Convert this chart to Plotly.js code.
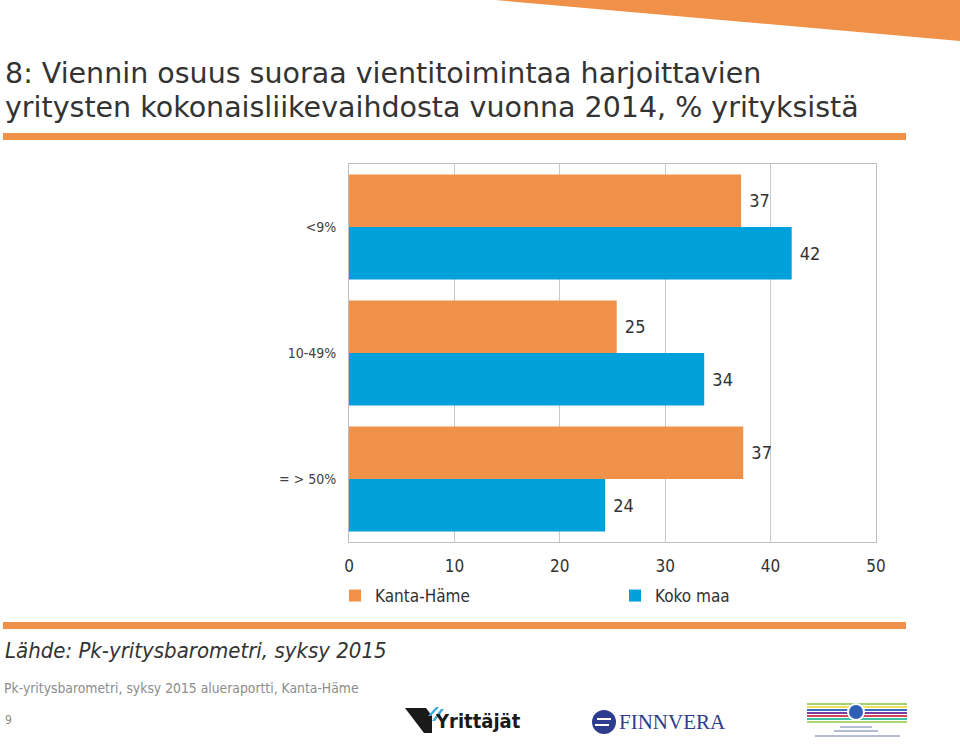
<!DOCTYPE html>
<html><head><meta charset="utf-8">
<script src="https://cdn.plot.ly/plotly-3.0.1.min.js"></script>
<style>body{margin:0;background:#fff}#chart{width:960px;height:744px}</style>
</head><body><div id="chart"></div>
<script>
// ---- data ----
const categories = ['<9%', '10-49%', '= > 50%'];
const kantaHame = [37.2, 25.4, 37.4];
const kokoMaa = [42.0, 33.7, 24.3];
const seriesNames = ['Kanta-Häme', 'Koko maa'];
const xTickVals = [0, 10, 20, 30, 40, 50];

const titleLines = ['8: Viennin osuus suoraa vientitoimintaa harjoittavien',
                    'yritysten kokonaisliikevaihdosta vuonna 2014, % yrityksistä'];
const sourceText = 'Lähde: Pk-yritysbarometri, syksy 2015';
const footerText = 'Pk-yritysbarometri, syksy 2015 alueraportti, Kanta-Häme';
const pageNumber = '9';

// ---- style ----
const FONT = '"DejaVu Sans Condensed", "DejaVu Sans", sans-serif';
const TFONT = '"DejaVu Sans", sans-serif';
const ORANGE = '#F0914A';
const BLUE = '#00A0DA';
const W = 960, H = 744;
const px = x => x / W;
const py = y => 1 - y / H;

const traces = [
  {type: 'bar', orientation: 'h', name: seriesNames[0], y: categories, x: kantaHame,
   marker: {color: ORANGE}, texttemplate: '\u00a0%{x:.0f}', textposition: 'outside',
   textfont: {family: FONT, size: 18, color: '#333333'}, cliponaxis: false, hoverinfo: 'x+y'},
  {type: 'bar', orientation: 'h', name: seriesNames[1], y: categories, x: kokoMaa,
   marker: {color: BLUE}, texttemplate: '\u00a0%{x:.0f}', textposition: 'outside',
   textfont: {family: FONT, size: 18, color: '#333333'}, cliponaxis: false, hoverinfo: 'x+y'}
];

function rect(x0, y0, x1, y1, color) {
  return {type: 'rect', xref: 'paper', yref: 'paper', x0: px(x0), x1: px(x1), y0: py(y1), y1: py(y0),
          fillcolor: color, line: {width: 0}, layer: 'above'};
}
function pathPx(points, color) {
  const d = 'M' + points.map(p => px(p[0]) + ',' + py(p[1])).join('L') + 'Z';
  return {type: 'path', xref: 'paper', yref: 'paper', path: d, fillcolor: color, line: {width: 0}, layer: 'above'};
}
function hline(x0, x1, y, color, w) {
  return {type: 'line', xref: 'paper', yref: 'paper', x0: px(x0), x1: px(x1), y0: py(y), y1: py(y),
          line: {color: color, width: w}, layer: 'above'};
}
function circ(cx, cy, r, color) {
  return {type: 'circle', xref: 'paper', yref: 'paper', x0: px(cx - r), x1: px(cx + r), y0: py(cy + r), y1: py(cy - r),
          fillcolor: color, line: {width: 0}, layer: 'above'};
}

const shapes = [
  pathPx([[495, 0], [960, 0], [960, 41]], ORANGE),
  rect(3, 133, 906, 140, ORANGE),
  rect(3, 622, 906, 629, ORANGE),
  // Yrittäjät logo mark
  pathPx([[405, 708], [426, 708], [432, 716], [432, 733], [424, 733]], '#1a1a1a'),
  pathPx([[428, 716], [436, 707], [439, 707], [431, 716]], '#3BA8D8'),
  pathPx([[432, 721], [441, 709], [444, 709], [435, 721]], '#3BA8D8'),
  // Finnvera circle
  circ(604, 722, 12, '#2E3C8F'),
  hline(597, 611, 719, '#ffffff', 2),
  hline(595, 609, 725, '#ffffff', 2),
  // ministry logo stripes
  hline(807, 907, 704, '#9FD36B', 2),
  hline(807, 907, 707, '#F2E25A', 2),
  hline(807, 907, 710, '#3A6FC6', 2),
  hline(807, 907, 713, '#7A3F9E', 2),
  hline(807, 907, 716, '#D2465A', 2),
  hline(807, 907, 719, '#3DBFA8', 2),
  hline(807, 907, 722, '#A6D96A', 2),
  circ(856, 712, 9, '#ffffff'),
  circ(856, 712, 7, '#2F5FB5'),
  hline(840, 872, 727, '#6b7aa8', 1),
  hline(834, 878, 731, '#6b7aa8', 1),
  hline(815, 900, 736, '#6b7aa8', 1)
];

const annotations = [
  {xref: 'paper', yref: 'paper', x: px(3), y: py(73), xanchor: 'left', yanchor: 'middle', showarrow: false,
   text: titleLines[0], font: {family: TFONT, size: 28.5, color: '#333333'}},
  {xref: 'paper', yref: 'paper', x: px(3), y: py(108), xanchor: 'left', yanchor: 'middle', showarrow: false,
   text: titleLines[1], font: {family: TFONT, size: 28.5, color: '#333333'}},
  {xref: 'paper', yref: 'paper', x: px(3), y: py(650), xanchor: 'left', yanchor: 'middle', showarrow: false,
   text: '<i>' + sourceText + '</i>', font: {family: FONT, size: 22, color: '#333333'}},
  {xref: 'paper', yref: 'paper', x: px(2), y: py(688), xanchor: 'left', yanchor: 'middle', showarrow: false,
   text: footerText, font: {family: FONT, size: 13.8, color: '#8C8C8C'}},
  {xref: 'paper', yref: 'paper', x: px(3), y: py(720), xanchor: 'left', yanchor: 'middle', showarrow: false,
   text: pageNumber, font: {family: FONT, size: 12, color: '#8C8C8C'}},
  {xref: 'paper', yref: 'paper', x: px(433), y: py(721), xanchor: 'left', yanchor: 'middle', showarrow: false,
   text: '<b>Yrittäjät</b>', font: {family: FONT, size: 20, color: '#1a1a1a'}},
  {xref: 'paper', yref: 'paper', x: px(617), y: py(722), xanchor: 'left', yanchor: 'middle', showarrow: false,
   text: 'FINNVERA', font: {family: '"Liberation Serif", serif', size: 21, color: '#2E3C8F'}}
];

const layout = {
  width: W, height: H,
  margin: {l: 0, r: 0, t: 0, b: 0},
  paper_bgcolor: '#ffffff', plot_bgcolor: '#ffffff',
  font: {family: FONT, color: '#333333'},
  barmode: 'group', bargap: 0.167, bargroupgap: 0,
  xaxis: {domain: [px(349), px(876)], range: [0, 50], tickvals: xTickVals, ticktext: xTickVals.map(String),
          showgrid: true, gridcolor: '#C8C8C8', gridwidth: 1, zeroline: false,
          showline: true, linecolor: '#BFBFBF', linewidth: 1, mirror: true, ticks: '',
          ticklabelstandoff: 9, tickfont: {family: FONT, size: 17, color: '#333333'}, fixedrange: true},
  yaxis: {domain: [py(542), py(164)], autorange: 'reversed', type: 'category',
          showline: true, linecolor: '#BFBFBF', linewidth: 1, mirror: true, showgrid: false, ticks: '',
          ticklabelstandoff: 9, tickfont: {family: FONT, size: 14, color: '#404040'}, fixedrange: true},
  showlegend: true,
  legend: {orientation: 'h', x: px(335), xanchor: 'left', y: py(578), yanchor: 'top',
           entrywidth: 235, entrywidthmode: 'pixels', traceorder: 'normal',
           font: {family: FONT, size: 17, color: '#333333'}, bgcolor: 'rgba(0,0,0,0)'},
  shapes: shapes,
  annotations: annotations
};

Plotly.newPlot('chart', traces, layout, {displayModeBar: false, staticPlot: true});
</script>
</body></html>
